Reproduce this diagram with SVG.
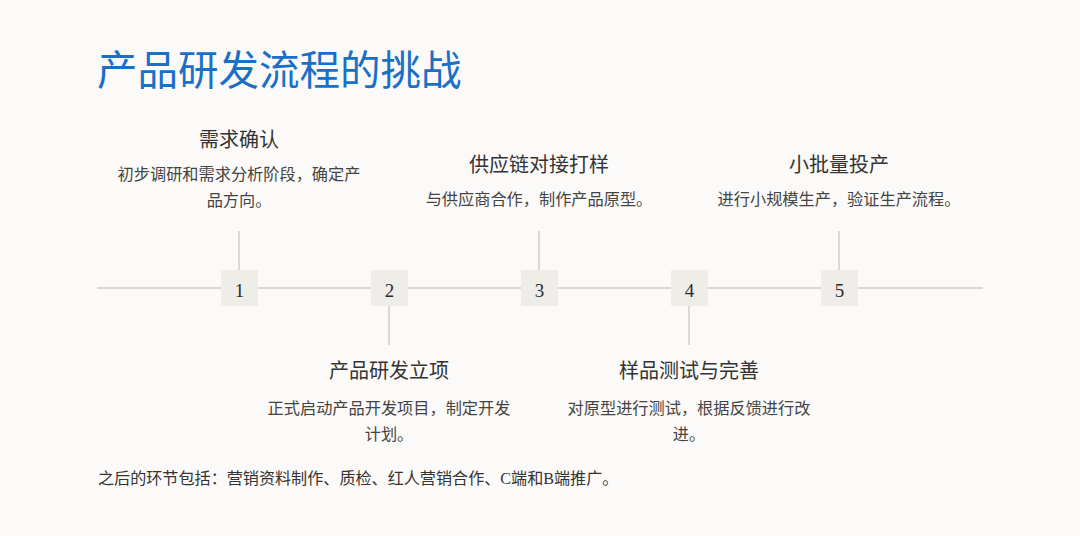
<svg xmlns="http://www.w3.org/2000/svg" width="1080" height="536" viewBox="0 0 1080 536">
<style>
.bg{fill:#fbfaf8}
.ln{stroke:#dcd9d3;stroke-width:2;fill:none}
.box{fill:#efede8}
.num{font-family:"Liberation Serif","DejaVu Serif",serif;font-size:19px;fill:#2b2b2b;text-anchor:middle}
.ttl{font-family:"Liberation Serif","Noto Sans CJK SC",sans-serif;font-size:20px;fill:#333;text-anchor:middle}
.dsc{font-family:"Liberation Serif","Noto Sans CJK SC",sans-serif;font-size:16.2px;fill:#444;text-anchor:middle}
.head{font-family:"Noto Sans CJK SC",sans-serif;font-size:40.5px;fill:#1a6fc6}
.foot{font-family:"Liberation Serif","Noto Sans CJK SC",sans-serif;font-size:16.1px;fill:#333}
</style>
<rect class="bg" x="0" y="0" width="1080" height="536"/>
<text class="head" x="97" y="85">产品研发流程的挑战</text>
<g id="connectors">
<line class="ln" x1="97" y1="288" x2="983" y2="288"/>
<line class="ln" x1="239" y1="231" x2="239" y2="270"/>
<line class="ln" x1="389" y1="306" x2="389" y2="345"/>
<line class="ln" x1="539" y1="231" x2="539" y2="270"/>
<line class="ln" x1="689" y1="306" x2="689" y2="345"/>
<line class="ln" x1="839" y1="231" x2="839" y2="270"/>
</g>
<g id="step1">
<rect class="box" x="221" y="270" width="37" height="36"/>
<text class="num" x="239.5" y="297">1</text>
<text class="ttl" x="239" y="147">需求确认</text>
<text class="dsc" x="239" y="180">初步调研和需求分析阶段，确定产</text>
<text class="dsc" x="239" y="206">品方向。</text>
</g>
<g id="step2">
<rect class="box" x="371" y="270" width="37" height="36"/>
<text class="num" x="389.5" y="297">2</text>
<text class="ttl" x="389" y="378">产品研发立项</text>
<text class="dsc" x="389" y="414">正式启动产品开发项目，制定开发</text>
<text class="dsc" x="389" y="440">计划。</text>
</g>
<g id="step3">
<rect class="box" x="521" y="270" width="37" height="36"/>
<text class="num" x="539.5" y="297">3</text>
<text class="ttl" x="539" y="172">供应链对接打样</text>
<text class="dsc" x="539" y="205">与供应商合作，制作产品原型。</text>
</g>
<g id="step4">
<rect class="box" x="671" y="270" width="37" height="36"/>
<text class="num" x="689.5" y="297">4</text>
<text class="ttl" x="689" y="378">样品测试与完善</text>
<text class="dsc" x="689" y="414">对原型进行测试，根据反馈进行改</text>
<text class="dsc" x="689" y="440">进。</text>
</g>
<g id="step5">
<rect class="box" x="821" y="270" width="37" height="36"/>
<text class="num" x="839.5" y="297">5</text>
<text class="ttl" x="839" y="172">小批量投产</text>
<text class="dsc" x="839" y="205">进行小规模生产，验证生产流程。</text>
</g>
<text class="foot" x="98" y="484">之后的环节包括：营销资料制作、质检、红人营销合作、C端和B端推广。</text>
</svg>
